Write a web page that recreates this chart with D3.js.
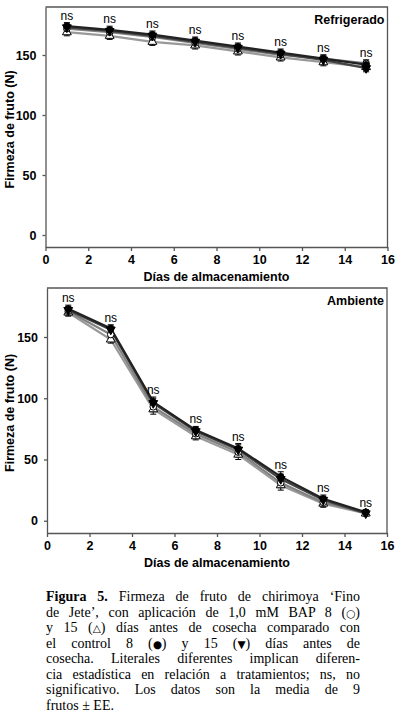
<!DOCTYPE html>
<meta charset="UTF-8">
<style>
    body { margin: 0; background: #fff; }
    svg { display: block; }
    .axis text { font-family: "Liberation Sans", Arial, sans-serif; font-weight: bold; font-size: 12.5px; fill: #000; }
    .axis path, .axis line { stroke: #555; stroke-width: 1.3; }
    .lbl { font-family: "Liberation Sans", Arial, sans-serif; font-weight: bold; font-size: 12.5px; fill: #000; }
    .ns { font-family: "Liberation Sans", Arial, sans-serif; font-size: 12px; fill: #000; }
    .cap { font-family: "Liberation Serif", "Times New Roman", serif; font-size: 14px; fill: #000; }
    .sym { font-family: "DejaVu Sans", sans-serif; font-size: 10.5px; }
</style>
<body>
<script src="https://d3js.org/d3.v7.min.js"></script>
<script>

// days of storage
var days = [1, 3, 5, 7, 9, 11, 13, 15];
var xTicks = [0, 2, 4, 6, 8, 10, 12, 14, 16];
var yTicks = [0, 50, 100, 150];

// Refrigerado
var refControl8 = [174, 171, 167, 162, 157, 152, 147, 142];
var refControl15 = [173, 170, 166, 161, 156, 151, 146, 139];
var refBap8 = [172, 169, 165, 160, 155, 150, 147, 143];
var refBap15 = [169, 166, 161, 158, 153, 148, 144, 140];

// Ambiente
var ambControl8 = [173, 157, 97, 74, 59, 36, 18, 7];
var ambControl15 = [172, 156, 96, 73, 58, 34, 17, 6];
var ambBap8 = [171, 152, 93, 71, 56, 31, 15, 7];
var ambBap15 = [170, 148, 91, 69, 54, 29, 14, 6];

// standard errors (approx.)
var refErr = [3, 3, 3, 3, 3, 3, 3, 3];
var ambErr = [3, 3, 4, 3, 4, 4, 3, 2];

// caption lines; {s} marks a legend symbol
var captionLines = [
    "Firmeza de fruto de chirimoya \u2018Fino",
    "de Jete\u2019, con aplicación de 1,0 mM BAP 8 ({\u25CB})",
    "y 15 ({\u25B3}) días antes de cosecha comparado con",
    "el control 8 ({\u25CF}) y 15 ({\u25BC}) días antes de",
    "cosecha. Literales diferentes implican diferen-",
    "cia estadística en relación a tratamientos; ns, no",
    "significativo. Los datos son la media de 9",
    "frutos \u00B1  EE."
];

var width = 399, height = 723;

var svg = d3.select("body").append("svg")
    .attr("width", width)
    .attr("height", height);

function drawPanel(opts) {
    var x = d3.scaleLinear().domain([0, 16]).range(opts.xr);
    var y = d3.scaleLinear().domain([-10, 190]).range(opts.yr);
    var g = svg.append("g");

    // frame (top and right)
    g.append("path")
        .attr("d", "M" + opts.xr[0] + "," + opts.yr[1] + "H" + opts.xr[1] + "V" + opts.yr[0])
        .attr("fill", "none").attr("stroke", "#555").attr("stroke-width", 1.3);

    // axes
    g.append("g").attr("class", "axis")
        .attr("transform", "translate(0," + opts.yr[0] + ")")
        .call(d3.axisBottom(x).tickValues(xTicks).tickSize(4).tickSizeOuter(0).tickPadding(4));
    g.append("g").attr("class", "axis")
        .attr("transform", "translate(" + opts.xr[0] + ",0)")
        .call(d3.axisLeft(y).tickValues(yTicks).tickSize(3).tickSizeOuter(0).tickPadding(6));

    // axis titles
    g.append("text").attr("class", "lbl")
        .attr("text-anchor", "middle")
        .attr("x", (x(0) + x(16)) / 2)
        .attr("y", opts.yr[0] + 34)
        .text("Días de almacenamiento");
    g.append("text").attr("class", "lbl")
        .attr("text-anchor", "middle")
        .attr("transform", "translate(14," + y(88) + ") rotate(-90)")
        .text("Firmeza de fruto (N)");

    g.append("text").attr("class", "lbl")
        .attr("text-anchor", "end")
        .attr("x", opts.xr[1] - 3)
        .attr("y", opts.yr[1] + 17)
        .text(opts.title);

    var series = opts.series;
    var line = d3.line()
        .x(function(d, i) { return x(days[i]); })
        .y(function(d) { return y(d); });

    series.forEach(function(s) {
        g.append("path")
            .datum(s.values)
            .attr("fill", "none")
            .attr("stroke", s.color)
            .attr("stroke-width", 2.2)
            .attr("d", line);
    });

    // error bars
    series.forEach(function(s) {
        var eb = g.append("g");
        s.values.forEach(function(v, i) {
            var e = opts.err[i], cx = x(days[i]);
            eb.append("path")
                .attr("d", "M" + cx + "," + y(v - e) + "V" + y(v + e) +
                    "M" + (cx - 3) + "," + y(v + e) + "h6" +
                    "M" + (cx - 3) + "," + y(v - e) + "h6")
                .attr("stroke", "#000").attr("stroke-width", 1).attr("fill", "none");
        });
    });

    // markers
    series.forEach(function(s) {
        g.selectAll(null)
            .data(s.values)
            .enter().append("path")
            .attr("transform", function(d, i) {
                return "translate(" + x(days[i]) + "," + y(d) + ")" + (s.flip ? " rotate(180)" : "");
            })
            .attr("d", d3.symbol().type(s.shape).size(s.size))
            .attr("fill", s.fill)
            .attr("stroke", "#000")
            .attr("stroke-width", 1);
    });

    // ns labels
    g.selectAll(null)
        .data(days)
        .enter().append("text")
        .attr("class", "ns")
        .attr("text-anchor", "middle")
        .attr("x", function(d) { return x(d); })
        .attr("y", function(d, i) {
            var m = d3.max(series, function(s) { return s.values[i]; });
            return y(m + opts.err[i]) - 3;
        })
        .text("ns");
}

function makeSeries(c8, c15, b8, b15) {
    return [
        { values: b15, color: "#999", shape: d3.symbolTriangle, fill: "#fff", size: 34, flip: false },
        { values: b8, color: "#808080", shape: d3.symbolCircle, fill: "#fff", size: 34, flip: false },
        { values: c15, color: "#444", shape: d3.symbolTriangle, fill: "#000", size: 34, flip: true },
        { values: c8, color: "#222", shape: d3.symbolCircle, fill: "#000", size: 30, flip: false }
    ];
}

drawPanel({
    xr: [45.5, 387.5],
    yr: [247, 7],
    title: "Refrigerado",
    err: refErr,
    series: makeSeries(refControl8, refControl15, refBap8, refBap15)
});

drawPanel({
    xr: [47, 387],
    yr: [533, 288],
    title: "Ambiente",
    err: ambErr,
    series: makeSeries(ambControl8, ambControl15, ambBap8, ambBap15)
});

// caption: one text block, each line justified through word spacing
var capX = 46, capW = 314, capY = 601, capLH = 15.5;
var cap = svg.append("text").attr("class", "cap");
captionLines.forEach(function(t, i) {
    var ln = cap.append("tspan")
        .attr("x", capX)
        .attr("y", capY + i * capLH);
    if (i === 0) {
        ln.append("tspan").attr("font-weight", "bold").text("Figura 5. ");
    }
    t.split(/[{}]/).forEach(function(part, k) {
        if (!part) return;
        var sp = ln.append("tspan").text(part);
        if (k % 2 === 1) sp.attr("class", "sym");
    });
    if (i < captionLines.length - 1) {
        var full = (i === 0 ? "Figura 5. " : "") + t;
        var len = ln.node().getComputedTextLength();
        var gaps = full.trim().split(/\s+/).length - 1;
        if (gaps > 0 && len < capW) {
            ln.attr("word-spacing", (capW - len) / gaps);
        }
    }
});

</script>
</body>
